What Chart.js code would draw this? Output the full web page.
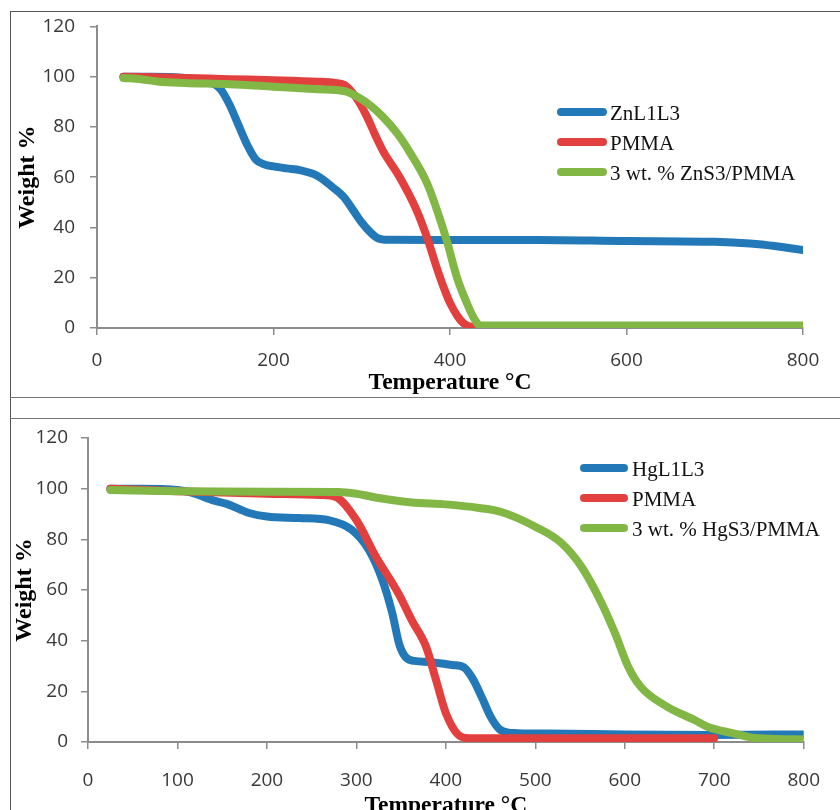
<!DOCTYPE html>
<html>
<head>
<meta charset="utf-8">
<script src="https://cdn.jsdelivr.net/npm/chart.js@4.4.1/dist/chart.umd.min.js"></script>
<style>
    body { margin: 0; background: #fff; width: 840px; height: 810px; overflow: hidden; position: relative; }
    #outer { position: absolute; left: 10px; top: 11px; width: 840px; height: 810px; border-left: 1px solid #555; border-top: 1px solid #555; }
    .split { position: absolute; left: 10px; width: 840px; height: 0; border-top: 1px solid #777; }
    canvas { position: absolute; left: 0; }
</style>
</head>
<body>
<div id="outer"></div>
<div class="split" style="top:397px"></div>
<div class="split" style="top:418px"></div>
<canvas id="topChart" width="840" height="397" style="top:0"></canvas>
<canvas id="bottomChart" width="840" height="420" style="top:400px"></canvas>
<script>
// top panel: ZnL1L3 set
const znTemp = [30, 60, 100, 130, 140, 150, 160, 170, 180, 190, 200, 215, 230, 250, 267, 280, 290, 300, 310, 318, 330, 400, 500, 600, 700, 740, 770, 800];
const znWeight = [100, 100, 99.5, 97.5, 95, 89, 81, 73, 67, 65, 64.3, 63.5, 62.8, 60.5, 56, 52, 47, 42, 38, 35.8, 35.1, 35, 35, 34.6, 34.3, 33.6, 32.5, 31];
const pmmaTopTemp = [30, 100, 150, 200, 250, 270, 280, 293, 306, 315, 324, 343, 362, 374, 385, 393, 400, 408, 415, 421, 430, 500, 600, 700, 800];
const pmmaTopWeight = [100, 99.5, 99, 98.6, 98, 97.5, 96.8, 92, 84, 77, 70.5, 60, 47, 36, 24, 16, 10, 5, 2, 0.8, 0.5, 0.5, 0.5, 0.5, 0.5];
const znCompTemp = [30, 50, 70, 100, 150, 200, 250, 280, 295, 310, 324, 340, 355, 374, 389, 397, 408, 419, 427, 434, 500, 600, 700, 800];
const znCompWeight = [99.5, 99, 98, 97.5, 97, 96, 95, 94.3, 92, 88.5, 84, 77.5, 69.6, 57.6, 43, 34, 20, 10, 4, 1, 1, 1, 1, 1];

// bottom panel: HgL1L3 set
const hgTemp = [25, 60, 100, 115, 139, 155, 180, 200, 236, 270, 295, 314, 329, 340, 348, 355, 365, 381, 407, 420, 430, 440, 450, 460, 470, 480, 537, 600, 700, 800];
const hgWeight = [100, 100, 99.5, 98.5, 95.5, 94, 90.4, 89, 88.4, 87.5, 83.7, 75.8, 64, 51, 38.5, 33.5, 32, 31.6, 30.4, 29.5, 25, 17.8, 10, 5, 3.7, 3.5, 3.3, 3, 2.8, 3];
const pmmaBotTemp = [25, 100, 200, 260, 277, 300, 322, 340, 348, 362, 378, 389, 400, 414, 426, 500, 600, 700];
const pmmaBotWeight = [100, 99, 98, 97.5, 96.7, 87.6, 73, 62.8, 58, 48, 37.5, 24.5, 11.4, 2.8, 1.5, 1.5, 1.5, 1.5];
const hgCompTemp = [25, 100, 200, 280, 300, 325, 362, 400, 437, 462, 500, 529, 552, 574, 589, 604, 618, 648, 678, 693, 720, 741, 770, 800];
const hgCompWeight = [99.5, 99, 98.8, 98.7, 98, 96.3, 94.5, 93.8, 92.4, 90.8, 85, 78.6, 69, 54.9, 43, 29.6, 21.7, 13.8, 8.7, 5.9, 3.5, 1.8, 1.2, 1];

const tempTicksTop = [0, 200, 400, 600, 800];
const tempTicksBottom = [0, 100, 200, 300, 400, 500, 600, 700, 800];
const weightTicks = [0, 20, 40, 60, 80, 100, 120];

const BLUE = '#2379b8';
const RED = '#e2403e';
const GREEN = '#82b746';

function toPoints(xs, ys) {
    return xs.map((x, i) => ({ x: x, y: ys[i] }));
}

function series(label, xs, ys, color, order) {
    return {
        label: label,
        data: toPoints(xs, ys),
        borderColor: color,
        backgroundColor: color,
        borderWidth: 8,
        borderCapStyle: 'round',
        borderJoinStyle: 'round',
        cubicInterpolationMode: 'monotone',
        pointRadius: 0,
        fill: false,
        order: order
    };
}

// legend drawn as short thick lines with the label right after
const lineLegend = {
    id: 'lineLegend',
    afterDraw(chart, args, opts) {
        const ctx = chart.ctx;
        ctx.save();
        ctx.font = '21px "Liberation Serif", "Times New Roman", serif';
        ctx.textBaseline = 'middle';
        chart.data.datasets.forEach((ds, i) => {
            const y = opts.y + i * opts.gap;
            ctx.strokeStyle = ds.borderColor;
            ctx.lineWidth = 8;
            ctx.lineCap = 'round';
            ctx.beginPath();
            ctx.moveTo(opts.x1, y);
            ctx.lineTo(opts.x2, y);
            ctx.stroke();
            ctx.fillStyle = '#111';
            ctx.fillText(ds.label, opts.textX, y + 2);
        });
        ctx.restore();
    }
};

function makeChart(id, datasets, cfg) {
    const ctx = document.getElementById(id).getContext('2d');
    const tickFont = { family: 'Open Sans', size: 19 };
    return new Chart(ctx, {
        type: 'line',
        data: { datasets: datasets },
        plugins: [lineLegend],
        options: {
            responsive: false,
            animation: false,
            devicePixelRatio: 1,
            events: [],
            layout: { padding: { top: cfg.top, right: cfg.right, left: 0, bottom: 0 } },
            plugins: {
                legend: { display: false },
                tooltip: { enabled: false },
                lineLegend: cfg.legend
            },
            scales: {
                x: {
                    type: 'linear',
                    min: 0,
                    max: 800,
                    afterBuildTicks: s => { s.ticks = cfg.xTicks.map(v => ({ value: v })); },
                    ticks: { color: '#383838', font: tickFont, padding: cfg.xPad, maxRotation: 0 },
                    grid: { drawOnChartArea: false, drawTicks: true, tickLength: 7, color: '#8c8c8c', lineWidth: 1.5 },
                    border: { color: '#8c8c8c', width: 2 },
                    title: {
                        display: true, text: 'Temperature °C', color: '#000',
                        font: { family: 'Liberation Serif', size: 23.5, weight: 'bold' },
                        padding: { top: cfg.xTitlePad, bottom: 0 }
                    },
                    afterFit: s => { s.height = cfg.xHeight; }
                },
                y: {
                    min: 0,
                    max: 120,
                    afterBuildTicks: s => { s.ticks = weightTicks.map(v => ({ value: v })); },
                    ticks: { color: '#383838', font: tickFont, padding: cfg.yPad },
                    grid: { drawOnChartArea: false, drawTicks: true, tickLength: 7, color: '#8c8c8c', lineWidth: 1.5 },
                    border: { color: '#8c8c8c', width: 2 },
                    title: {
                        display: true, text: 'Weight %', color: '#000',
                        font: { family: 'Liberation Serif', size: 24, weight: 'bold' },
                        padding: { top: cfg.yTitlePad, bottom: 0 }
                    },
                    afterFit: s => { s.width = cfg.yWidth; }
                }
            }
        }
    });
}

makeChart('topChart', [
    series('ZnL1L3', znTemp, znWeight, BLUE, 3),
    series('PMMA', pmmaTopTemp, pmmaTopWeight, RED, 2),
    series('3 wt. % ZnS3/PMMA', znCompTemp, znCompWeight, GREEN, 1)
], {
    top: 26, right: 37, yWidth: 97, xHeight: 69,
    xPad: 14, yPad: 15, xTitlePad: 3, yTitlePad: 13,
    xTicks: tempTicksTop,
    legend: { x1: 561, x2: 603, textX: 610, y: 112, gap: 30 }
});

makeChart('bottomChart', [
    series('HgL1L3', hgTemp, hgWeight, BLUE, 3),
    series('PMMA', pmmaBotTemp, pmmaBotWeight, RED, 2),
    series('3 wt. % HgS3/PMMA', hgCompTemp, hgCompWeight, GREEN, 1)
], {
    top: 38, right: 34, yWidth: 88, xHeight: 78,
    xPad: 20, yPad: 13, xTitlePad: 6, yTitlePad: 10,
    xTicks: tempTicksBottom,
    legend: { x1: 584, x2: 624, textX: 632, y: 68, gap: 30 }
});
</script>
</body>
</html>
